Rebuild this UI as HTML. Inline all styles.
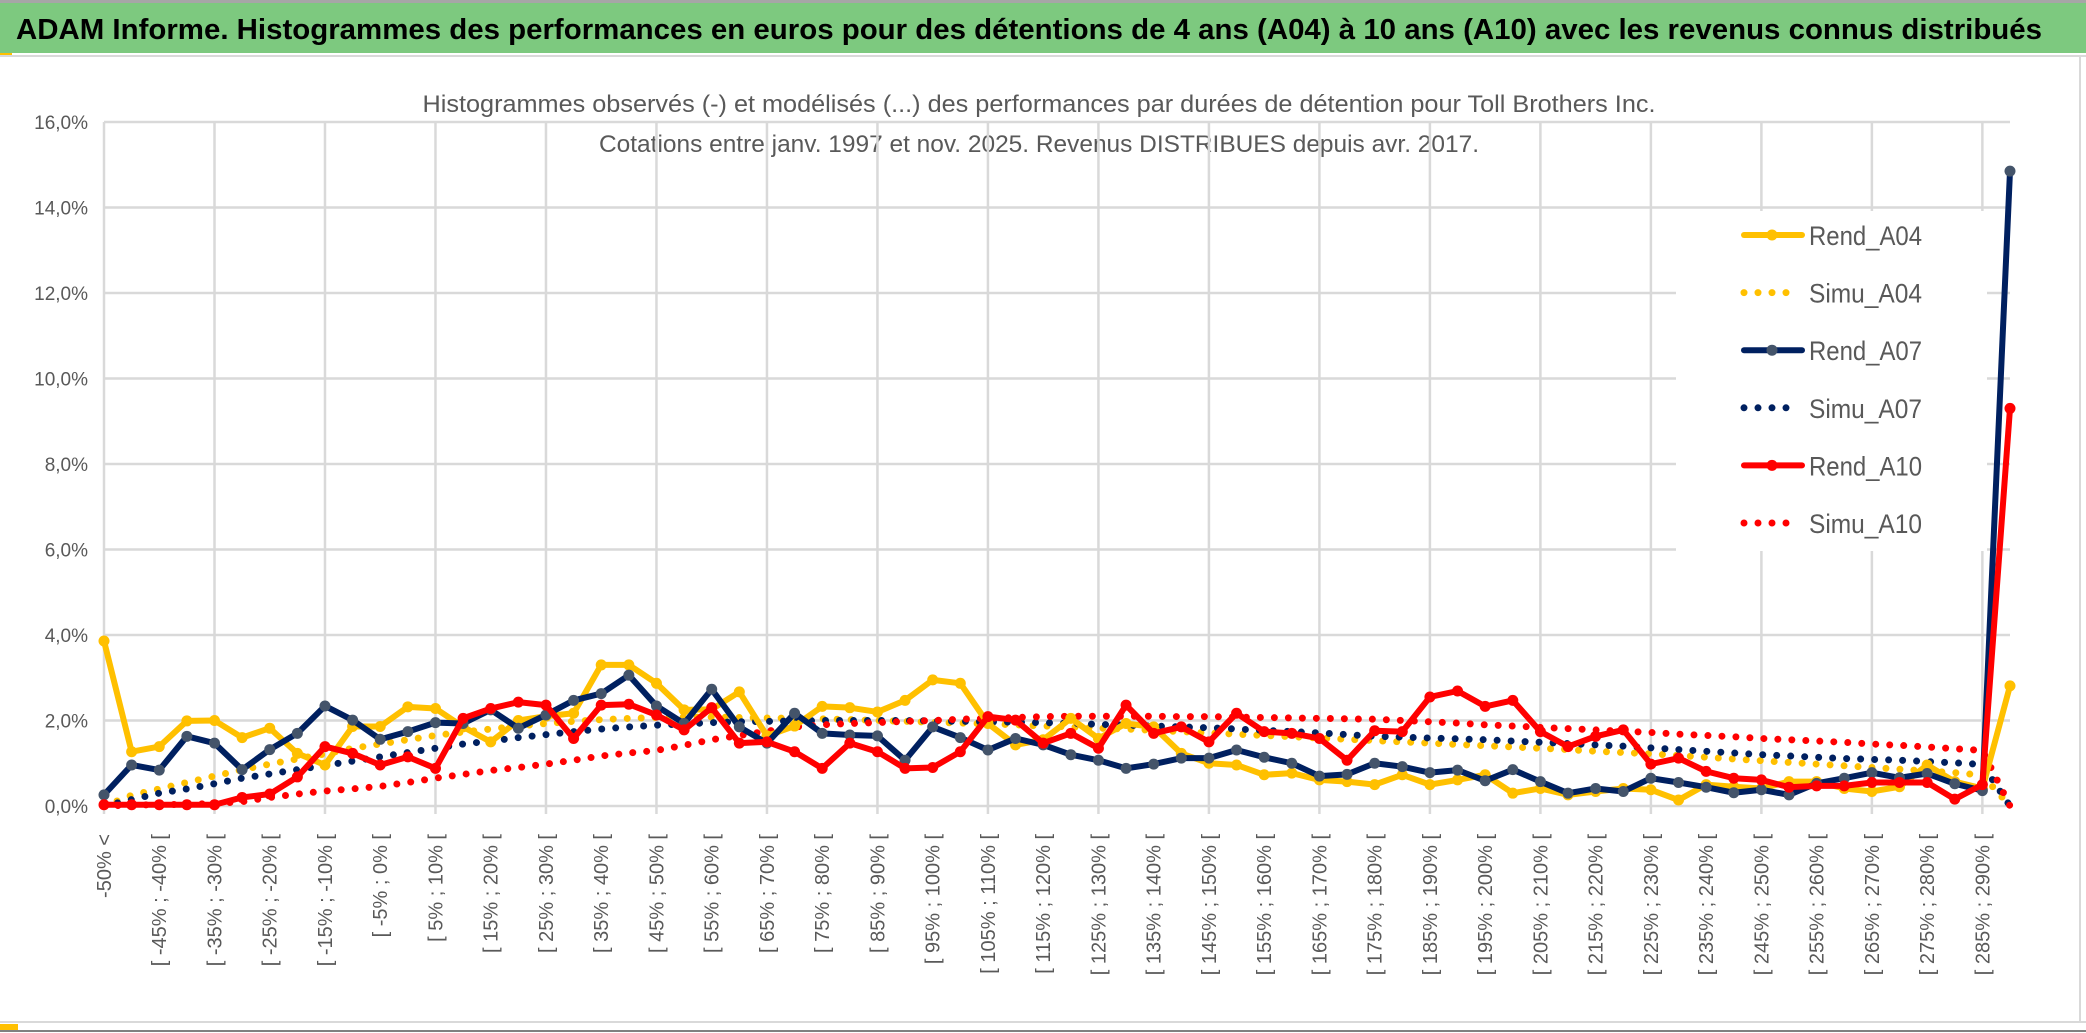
<!DOCTYPE html>
<html><head><meta charset="utf-8"><style>
html,body{margin:0;padding:0;background:#fff;}
svg{display:block;}
</style></head><body>
<svg id="chart" width="2086" height="1033" viewBox="0 0 2086 1033" xmlns="http://www.w3.org/2000/svg">
<rect x="0" y="0" width="2086" height="1033" fill="#fff"/>
<rect x="0" y="0" width="2086" height="3" fill="#a6a6a6"/>
<rect x="0" y="3" width="2086" height="50" fill="#7dc97f"/>
<rect x="0" y="53" width="12" height="3" fill="#ffc000"/>
<rect x="0" y="55" width="2086" height="2" fill="#d9d9d9"/>
<text x="16" y="39" font-family="'Liberation Sans',sans-serif" font-weight="bold" font-size="29" fill="#000" textLength="2026" lengthAdjust="spacingAndGlyphs">ADAM Informe. Histogrammes des performances en euros pour des détentions de 4 ans (A04) à 10 ans (A10) avec les revenus connus distribués</text>
<text x="1039" y="112" text-anchor="middle" font-family="'Liberation Sans',sans-serif" font-size="24" fill="#595959" textLength="1233" lengthAdjust="spacingAndGlyphs">Histogrammes observés (-) et modélisés (...) des performances par durées de détention pour Toll Brothers Inc.</text>
<text x="1039" y="152" text-anchor="middle" font-family="'Liberation Sans',sans-serif" font-size="24" fill="#595959" textLength="880" lengthAdjust="spacingAndGlyphs">Cotations entre janv. 1997 et nov. 2025. Revenus DISTRIBUES depuis avr. 2017.</text>
<g id="grid"></g>
<g id="yaxis"></g>
<g id="xaxis"></g>
<g id="series"></g>
<g id="legend"></g>
<rect x="2079" y="57" width="2" height="966" fill="#d9d9d9"/>
<rect x="0" y="1021" width="2086" height="2" fill="#d9d9d9"/>
<rect x="0" y="1024" width="18" height="6" fill="#ffc000"/>
<rect x="0" y="1030" width="2086" height="2" fill="#808080"/>
</svg>
<script>
const yTicks = [0,2,4,6,8,10,12,14,16];
const yTickLabels = ["0,0%","2,0%","4,0%","6,0%","8,0%","10,0%","12,0%","14,0%","16,0%"];
const categories = (function(){ const c=["-50% <"]; for(let a=-50;a<290;a+=5){ c.push("[ "+a+"% ; "+(a+5)+"% ["); } c.push("> 290%"); return c; })();
const rendA04 = [3.86,1.27,1.39,1.99,2.0,1.6,1.82,1.23,0.96,1.86,1.86,2.32,2.28,1.85,1.5,2.0,2.1,2.17,3.3,3.3,2.87,2.25,2.26,2.67,1.64,1.87,2.33,2.3,2.2,2.47,2.95,2.87,1.93,1.43,1.55,2.05,1.58,1.93,1.85,1.23,1.0,0.96,0.73,0.77,0.61,0.57,0.5,0.73,0.5,0.61,0.73,0.3,0.41,0.26,0.34,0.41,0.38,0.14,0.5,0.45,0.41,0.57,0.57,0.41,0.34,0.45,0.96,0.57,0.41,2.81];
const rendA07 = [0.26,0.96,0.84,1.63,1.47,0.85,1.32,1.7,2.34,2.01,1.56,1.74,1.95,1.93,2.25,1.82,2.13,2.47,2.63,3.06,2.34,1.93,2.73,1.85,1.47,2.17,1.7,1.66,1.64,1.07,1.85,1.6,1.31,1.58,1.43,1.2,1.07,0.88,0.98,1.12,1.12,1.31,1.14,1.0,0.7,0.74,1.0,0.92,0.78,0.84,0.59,0.85,0.57,0.3,0.41,0.34,0.65,0.55,0.44,0.31,0.38,0.26,0.53,0.65,0.78,0.66,0.76,0.52,0.36,14.85];
const rendA10 = [0.03,0.03,0.03,0.03,0.03,0.2,0.28,0.68,1.39,1.23,0.96,1.15,0.88,2.05,2.28,2.43,2.36,1.58,2.36,2.38,2.13,1.78,2.3,1.47,1.5,1.27,0.88,1.47,1.27,0.88,0.9,1.27,2.09,2.01,1.47,1.7,1.35,2.36,1.7,1.85,1.5,2.17,1.74,1.7,1.58,1.07,1.76,1.74,2.55,2.69,2.33,2.47,1.74,1.39,1.63,1.78,0.98,1.12,0.81,0.65,0.61,0.44,0.47,0.47,0.55,0.55,0.55,0.16,0.5,9.3];
const simuA04 = [0,0.25,0.4,0.55,0.7,0.85,0.98,1.1,1.22,1.35,1.45,1.55,1.65,1.73,1.8,1.87,1.93,1.98,2.02,2.05,2.07,2.08,2.08,2.07,2.06,2.05,2.04,2.02,2.0,1.98,1.96,1.94,1.92,1.9,1.87,1.85,1.82,1.8,1.77,1.74,1.71,1.68,1.65,1.62,1.59,1.56,1.53,1.5,1.47,1.44,1.41,1.38,1.35,1.32,1.28,1.25,1.22,1.18,1.14,1.1,1.06,1.02,0.98,0.94,0.9,0.86,0.82,0.78,0.72,0];
const simuA07 = [0,0.15,0.3,0.4,0.52,0.65,0.75,0.85,0.95,1.05,1.15,1.25,1.35,1.45,1.52,1.6,1.67,1.74,1.8,1.85,1.89,1.92,1.95,1.97,1.98,1.99,2.0,2.0,2.0,2.0,1.99,1.98,1.97,1.96,1.95,1.93,1.91,1.89,1.87,1.85,1.83,1.8,1.77,1.74,1.71,1.67,1.63,1.61,1.59,1.57,1.55,1.52,1.49,1.46,1.43,1.4,1.36,1.32,1.28,1.24,1.2,1.17,1.14,1.11,1.09,1.07,1.04,1.01,0.97,0];
const simuA10 = [0,0.02,0.03,0.04,0.06,0.1,0.2,0.28,0.35,0.4,0.46,0.55,0.65,0.74,0.83,0.9,0.98,1.07,1.17,1.24,1.3,1.42,1.55,1.65,1.75,1.85,1.9,1.93,1.95,1.98,2.0,2.03,2.05,2.07,2.09,2.1,2.1,2.1,2.1,2.09,2.09,2.08,2.07,2.06,2.05,2.04,2.03,2.0,1.97,1.94,1.9,1.87,1.84,1.81,1.78,1.75,1.72,1.68,1.65,1.62,1.58,1.55,1.52,1.49,1.45,1.42,1.38,1.34,1.3,0];

const NS="http://www.w3.org/2000/svg";
const X0=104, X1=2010, Y0=806, YTOP=122, YMAX=16;
function xs(i){ return X0 + (X1-X0)*i/(categories.length-1); }
function ys(v){ return Y0 - (Y0-YTOP)*v/YMAX; }
function mk(tag, parent){ const e=document.createElementNS(NS,tag); parent.appendChild(e); return e; }

const grid=document.getElementById('grid');
yTicks.forEach((t,k)=>{
  const l=mk('line',grid);
  
  
  l.setAttribute('x1',X0); l.setAttribute('x2',X1); l.setAttribute('y1',ys(t)); l.setAttribute('y2',ys(t));
  l.setAttribute('stroke','#d9d9d9'); l.setAttribute('stroke-width','2.5');
  const tx=mk('text',document.getElementById('yaxis'));
  
  
  tx.setAttribute('x',88); tx.setAttribute('y',ys(t)+7); tx.setAttribute('text-anchor','end');
  tx.setAttribute('font-family',"'Liberation Sans',sans-serif"); tx.setAttribute('font-size','19'); tx.setAttribute('fill','#595959');
  tx.textContent=yTickLabels[k];
});
for(let i=0;i<categories.length;i+=4){
  const l=mk('line',grid);
  
  
  l.setAttribute('x1',xs(i)); l.setAttribute('x2',xs(i)); l.setAttribute('y1',ys(YMAX)); l.setAttribute('y2',Y0+8);
  l.setAttribute('stroke','#d9d9d9'); l.setAttribute('stroke-width','2.5');
}
const xaxis=document.getElementById('xaxis');
for(let i=0;i<categories.length-1;i+=2){
  const tx=mk('text',xaxis);
  
  
  const x=xs(i)+7, y=834;
  tx.setAttribute('transform','translate('+x+','+y+') rotate(-90)');
  tx.setAttribute('text-anchor','end');
  tx.setAttribute('font-family',"'Liberation Sans',sans-serif"); tx.setAttribute('font-size','20'); tx.setAttribute('fill','#595959');
  tx.textContent=categories[i];
}
const series=document.getElementById('series');
function drawSim(data,color,name){
  const p=mk('polyline',series);
  
  
  p.setAttribute('points',data.map((v,i)=>xs(i)+','+ys(v)).join(' '));
  p.setAttribute('fill','none'); p.setAttribute('stroke',color); p.setAttribute('stroke-width','7');
  p.setAttribute('stroke-linecap','round'); p.setAttribute('stroke-dasharray','0 14');
}
function drawRend(data,color,mfill,name){
  const p=mk('polyline',series);
  
  
  p.setAttribute('points',data.map((v,i)=>xs(i)+','+ys(v)).join(' '));
  p.setAttribute('fill','none'); p.setAttribute('stroke',color); p.setAttribute('stroke-width','6'); p.setAttribute('stroke-linejoin','round');
  data.forEach((v,i)=>{
    const c=mk('circle',series);
    
    
    c.setAttribute('cx',xs(i)); c.setAttribute('cy',ys(v)); c.setAttribute('r','5.5'); c.setAttribute('fill',mfill);
  });
}
drawSim(simuA04,'#ffc000','simu-a04-line');
drawSim(simuA07,'#002060','simu-a07-line');
drawSim(simuA10,'#ff0000','simu-a10-line');
drawRend(rendA04,'#ffc000','#ffc000','rend-a04-line');
drawRend(rendA07,'#002060','#44546a','rend-a07-line');
drawRend(rendA10,'#ff0000','#ff0000','rend-a10-line');

const legend=document.getElementById('legend');
const lb=mk('rect',legend);


lb.setAttribute('x',1676); lb.setAttribute('y',211); lb.setAttribute('width',311); lb.setAttribute('height',340); lb.setAttribute('fill','#fff');
const legendNames=["Rend_A04","Simu_A04","Rend_A07","Simu_A07","Rend_A10","Simu_A10"];
const legendColors=["#ffc000","#ffc000","#002060","#002060","#ff0000","#ff0000"];
const legendMarkers=["#ffc000",null,"#44546a",null,"#ff0000",null];
legendNames.forEach((n,k)=>{
  const y=235+57.6*k;
  const g=mk('g',legend);
  
  
  const l=mk('line',g);
  
  
  l.setAttribute('x1',1744); l.setAttribute('x2',legendMarkers[k]?1802:1793); l.setAttribute('y1',y); l.setAttribute('y2',y);
  l.setAttribute('stroke',legendColors[k]); l.setAttribute('stroke-linecap','round');
  if(legendMarkers[k]){ l.setAttribute('stroke-width','6');
    const c=mk('circle',g);
    
    
    c.setAttribute('cx',1772); c.setAttribute('cy',y); c.setAttribute('r','5.5'); c.setAttribute('fill',legendMarkers[k]);
  } else { l.setAttribute('stroke-width','7'); l.setAttribute('stroke-dasharray','0 14'); }
  const t=mk('text',g);
  
  
  t.setAttribute('x',1809); t.setAttribute('y',y+10);
  t.setAttribute('font-family',"'Liberation Sans',sans-serif"); t.setAttribute('font-size','27'); t.setAttribute('fill','#595959');
  t.setAttribute('textLength','113'); t.setAttribute('lengthAdjust','spacingAndGlyphs');
  t.textContent=n;
});
</script>
</body></html>
